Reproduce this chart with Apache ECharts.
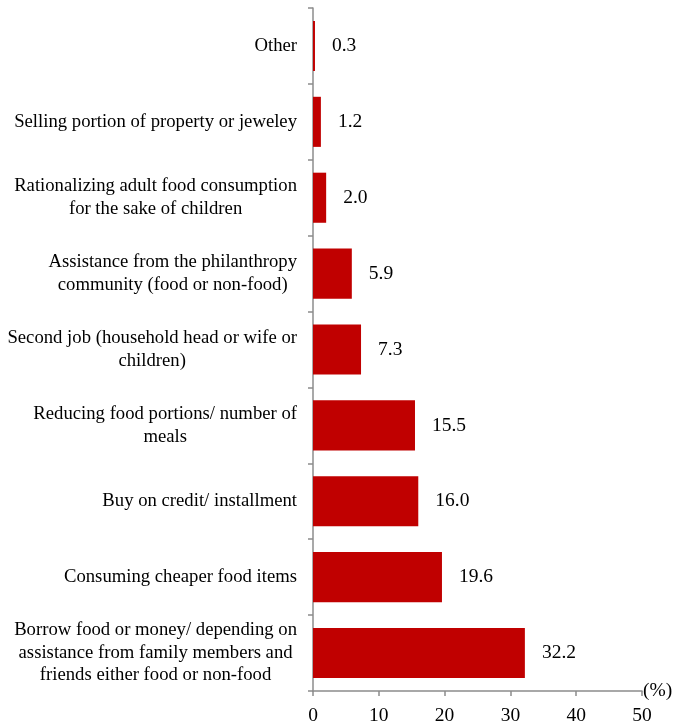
<!DOCTYPE html>
<html>
<head>
  <meta charset="utf-8">
  <style type="text/css">
    body, html, #main {
      height: 100%;
      width: 100%;
      margin: 0;
      background: #fff;
    }
  </style>
  <script src="https://cdn.jsdelivr.net/npm/echarts@6/dist/echarts.min.js"></script>
</head>
<body>
  <div id="main"></div>
  <script>
    // bottom to top, as ECharts draws a category y axis
    var categories = [
      'Borrow food or money/ depending on\nassistance from family members and\nfriends either food or non-food',
      'Consuming cheaper food items',
      'Buy on credit/ installment',
      'Reducing food portions/ number of\nmeals',
      'Second job (household head or wife or\nchildren)',
      'Assistance from the philanthropy\ncommunity (food or non-food)',
      'Rationalizing adult food consumption\nfor the sake of children',
      'Selling portion of property or jeweley',
      'Other'
    ]
    var values = [32.2, 19.6, 16.0, 15.5, 7.3, 5.9, 2.0, 1.2, 0.3]
    var xTicks = [0, 10, 20, 30, 40, 50]

    var font = '"Liberation Serif", "Times New Roman", serif'
    var axisGray = '#8c8c8c'

    var chart = echarts.init(document.getElementById('main'), null, { renderer: 'canvas' })
    chart.setOption({
      animation: false,
      textStyle: { fontFamily: font },
      grid: { left: 313, right: 37, top: 8, bottom: 30, containLabel: false, outerBoundsMode: 'none' },
      xAxis: {
        type: 'value',
        min: xTicks[0],
        max: xTicks[xTicks.length - 1],
        interval: 10,
        name: '(%)',
        nameLocation: 'end',
        nameGap: 1,
        nameTextStyle: { fontFamily: font, fontSize: 19.5, color: '#000', verticalAlign: 'middle', align: 'left', padding: [0, 0, 6, 0] },
        splitLine: { show: false },
        axisLine: { show: true, lineStyle: { color: axisGray, width: 1.5 } },
        axisTick: { show: true, length: 5, lineStyle: { color: axisGray, width: 1.5 } },
        axisLabel: { fontFamily: font, fontSize: 19.5, color: '#000', margin: 15 }
      },
      yAxis: {
        type: 'category',
        data: categories,
        axisLine: { show: true, lineStyle: { color: axisGray, width: 1.5 } },
        axisTick: { show: true, length: 5, alignWithLabel: false, lineStyle: { color: axisGray, width: 1.5 } },
        axisLabel: {
          fontFamily: font,
          fontSize: 18.7,
          color: '#000',
          margin: 16,
          lineHeight: 22.5,
          align: 'right',
          // centre each line inside the label block
          formatter: function (v) {
            return v.split('\n').map(function (s) { return '{c|' + s + '}' }).join('\n')
          },
          rich: {
            c: { align: 'center', fontFamily: font, fontSize: 18.7, lineHeight: 22.5, color: '#000' }
          }
        }
      },
      series: [{
        type: 'bar',
        data: values,
        barCategoryGap: '34%',
        itemStyle: { color: '#c00000' },
        label: {
          show: true,
          position: 'right',
          distance: 17,
          fontFamily: font,
          fontSize: 19.5,
          color: '#000',
          formatter: function (p) { return p.value.toFixed(1) }
        }
      }]
    })
  </script>
</body>
</html>
